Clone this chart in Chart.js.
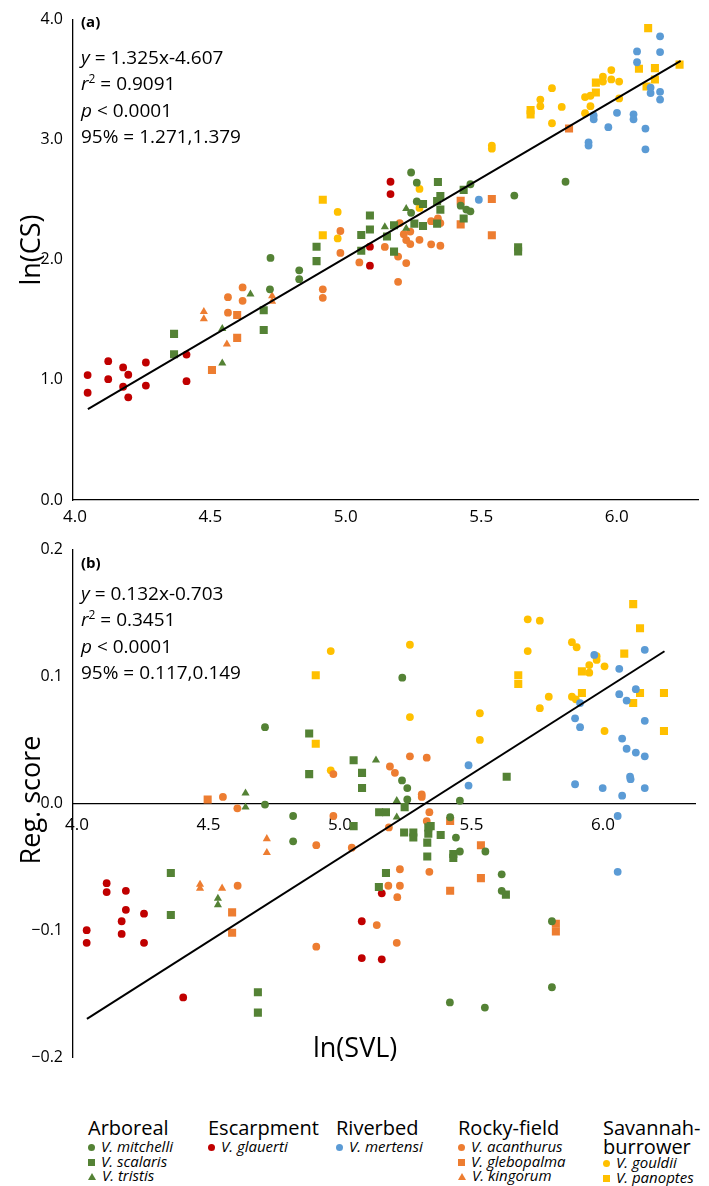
<!DOCTYPE html>
<html>
<head>
<meta charset="utf-8">
<script src="https://cdn.jsdelivr.net/npm/chart.js@4.4.1/dist/chart.umd.min.js"></script>
<style>
  body { margin: 0; background: #fff; color: #000; font-family: "Open Sans", sans-serif; }
  #wrap { position: relative; width: 709px; height: 1186px; overflow: hidden; background: #fff; }
  canvas { position: absolute; left: 0; }
  .tag { position: absolute; left: 81px; font-weight: bold; font-size: 15px; line-height: 18px; }
  .stats { position: absolute; left: 81px; font-size: 19px; line-height: 26.4px; white-space: nowrap; }
  .stats sup { font-size: 12px; vertical-align: 7px; line-height: 0; }
  .vtitle { position: absolute; width: 300px; text-align: center; font-size: 27px; line-height: 34px; transform: rotate(-90deg); }
  .htitle { position: absolute; font-size: 27px; line-height: 34px; }
  .grp { position: absolute; top: 1117px; }
  .grp .head { font-size: 20px; line-height: 22px; }
  .grp .head + .head { line-height: 16px; }
  .grp .item { font-size: 15px; line-height: 14.5px; font-style: italic; white-space: nowrap; }
  .mk { display: inline-block; margin-right: 6px; vertical-align: 1px; }
</style>
</head>
<body>
<div id="wrap">
  <canvas id="chartA" width="709" height="540" style="top:0"></canvas>
  <canvas id="chartB" width="709" height="560" style="top:530px"></canvas>

  <div class="tag" style="top:12px">(a)</div>
  <div class="stats" style="top:44px">
    <div><i>y</i> = 1.325x-4.607</div>
    <div><i>r</i><sup>2</sup> = 0.9091</div>
    <div><i>p</i> &lt; 0.0001</div>
    <div>95% = 1.271,1.379</div>
  </div>
  <div class="tag" style="top:553px">(b)</div>
  <div class="stats" style="top:580px">
    <div><i>y</i> = 0.132x-0.703</div>
    <div><i>r</i><sup>2</sup> = 0.3451</div>
    <div><i>p</i> &lt; 0.0001</div>
    <div>95% = 0.117,0.149</div>
  </div>

  <div class="vtitle" style="left:-120px; top:233px">ln(CS)</div>
  <div class="vtitle" style="left:-120px; top:783px">Reg. score</div>
  <div class="htitle" style="left:313px; top:1030px">ln(SVL)</div>

  <div id="legend"></div>
</div>

<script>
// x ticks shared by both panels
const xTicks = [4.0, 4.5, 5.0, 5.5, 6.0];
const yTicksA = [0, 1, 2, 3, 4];
const yTicksB = [-0.2, -0.1, 0, 0.1, 0.2];

// panel (a): ln(CS) against ln(SVL)
const mitchelliA = [[4.720,1.754],[4.722,2.016],[4.828,1.912],[4.828,1.839],[5.241,2.727],[5.262,2.642],[5.262,2.486],[5.241,2.391],[5.424,2.451],[5.445,2.418],[5.460,2.404],[5.460,2.629],[5.622,2.535],[5.811,2.650]];
const scalarisA = [[4.366,1.383],[4.366,1.213],[4.697,1.580],[4.697,1.416],[4.892,2.109],[4.892,1.989],[5.057,2.207],[5.057,2.076],[5.089,2.369],[5.089,2.252],[5.178,2.287],[5.178,2.068],[5.152,2.194],[5.253,2.301],[5.285,2.465],[5.285,2.281],[5.340,2.648],[5.349,2.530],[5.337,2.489],[5.349,2.418],[5.337,2.301],[5.435,2.582],[5.435,2.344],[5.636,2.104],[5.636,2.070]];
const tristisA = [[4.648,1.713],[4.544,1.426],[4.544,1.139],[5.144,2.273],[5.223,2.426],[5.223,2.262]];
const glauertiA = [[4.047,1.040],[4.047,0.893],[4.123,1.156],[4.123,1.006],[4.178,1.104],[4.197,1.043],[4.178,0.943],[4.197,0.855],[4.262,1.145],[4.262,0.953],[4.412,1.211],[4.412,0.989],[5.165,2.650],[5.165,2.547],[5.089,2.109],[5.089,1.951]];
const mertensiA = [[5.491,2.500],[6.160,3.861],[6.075,3.735],[6.160,3.730],[6.075,3.645],[6.125,3.434],[6.125,3.388],[6.160,3.399],[6.160,3.334],[5.915,3.202],[5.915,3.170],[6.001,3.224],[6.062,3.211],[6.062,3.170],[5.969,3.104],[6.106,3.093],[5.896,2.978],[5.896,2.951],[6.106,2.920]];
const acanthurusA = [[4.619,1.770],[4.565,1.689],[4.619,1.658],[4.565,1.560],[4.915,1.754],[4.915,1.683],[4.980,2.240],[4.980,2.057],[5.050,1.978],[5.144,2.107],[5.193,2.027],[5.223,1.973],[5.193,1.817],[5.199,2.306],[5.214,2.213],[5.238,2.235],[5.223,2.164],[5.238,2.131],[5.272,2.166],[5.315,2.322],[5.340,2.344],[5.349,2.306],[5.315,2.129],[5.349,2.117]];
const glebopalmaA = [[4.599,1.541],[4.599,1.350],[4.506,1.082],[5.424,2.492],[5.424,2.295],[5.539,2.506],[5.539,2.205],[5.824,3.093]];
const kingorumA = [[4.476,1.568],[4.476,1.508],[4.728,1.699],[4.728,1.653],[4.561,1.298]];
const gouldiiA = [[4.970,2.399],[4.970,2.178],[5.272,2.590],[5.272,2.432],[5.539,2.951],[5.539,2.925],[5.980,3.580],[5.949,3.525],[5.949,3.484],[5.980,3.502],[6.009,3.484],[5.761,3.429],[5.718,3.334],[5.718,3.279],[5.797,3.273],[5.761,3.137],[5.883,3.355],[5.903,3.366],[5.903,3.279],[5.883,3.221],[6.009,3.344]];
const panoptesA = [[4.915,2.500],[4.915,2.205],[6.116,3.929],[6.082,3.590],[6.141,3.596],[6.232,3.625],[6.141,3.502],[6.110,3.443],[5.923,3.475],[5.923,3.393],[5.682,3.246],[5.682,3.211]];

// panel (b): regression score against ln(SVL)
const mitchelliB = [[4.715,0.060],[4.715,-0.001],[4.822,-0.010],[4.822,-0.030],[5.237,0.099],[5.236,0.018],[5.256,0.012],[5.256,0.003],[5.456,0.002],[5.419,-0.011],[5.441,-0.027],[5.456,-0.038],[5.553,-0.038],[5.615,-0.056],[5.615,-0.069],[5.806,-0.093],[5.806,-0.145],[5.418,-0.157],[5.551,-0.161]];
const scalarisB = [[4.883,0.055],[4.883,0.023],[5.052,0.034],[5.084,0.024],[5.084,0.012],[5.052,-0.018],[5.149,-0.007],[5.175,-0.007],[5.246,-0.003],[5.634,0.021],[5.244,-0.023],[5.279,-0.023],[5.279,-0.027],[5.336,-0.019],[5.345,-0.018],[5.336,-0.024],[5.383,-0.025],[5.332,-0.031],[5.332,-0.042],[5.431,-0.040],[5.431,-0.043],[5.631,-0.072],[4.357,-0.055],[4.357,-0.088],[5.175,-0.055],[5.148,-0.066],[4.688,-0.149],[4.688,-0.165]];
const tristisB = [[5.137,0.034],[4.641,0.008],[4.641,-0.003],[5.216,0.002],[5.216,-0.011],[4.536,-0.075],[4.536,-0.080]];
const glauertiB = [[4.037,-0.100],[4.037,-0.110],[4.113,-0.063],[4.113,-0.070],[4.186,-0.069],[4.186,-0.084],[4.170,-0.093],[4.170,-0.103],[4.255,-0.087],[4.255,-0.110],[4.404,-0.153],[5.083,-0.093],[5.083,-0.122],[5.159,-0.071],[5.159,-0.123]];
const mertensiB = [[5.489,0.030],[5.489,0.014],[5.967,0.117],[6.159,0.121],[6.062,0.106],[6.125,0.090],[6.062,0.086],[6.090,0.081],[5.913,0.079],[5.894,0.067],[5.913,0.060],[6.159,0.065],[6.073,0.051],[6.090,0.043],[6.125,0.040],[6.159,0.037],[6.103,0.021],[6.105,0.019],[5.894,0.015],[5.999,0.012],[6.159,0.012],[6.073,0.006],[6.056,-0.010],[6.056,-0.054]];
const acanthurusB = [[4.975,0.023],[5.190,0.029],[4.555,0.005],[4.610,-0.004],[4.975,-0.010],[4.910,-0.033],[5.045,-0.035],[4.611,-0.065],[4.910,-0.113],[5.184,-0.065],[5.140,-0.096],[5.266,0.037],[5.330,0.036],[5.209,0.024],[5.311,0.007],[5.311,0.005],[5.340,-0.007],[5.330,-0.014],[5.186,-0.019],[5.228,-0.052],[5.340,-0.054],[5.228,-0.065],[5.218,-0.074],[5.216,-0.110]];
const glebopalmaB = [[4.497,0.003],[4.590,-0.086],[4.590,-0.102],[5.419,-0.014],[5.536,-0.033],[5.536,-0.059],[5.419,-0.069],[5.821,-0.095],[5.821,-0.101]];
const kingorumB = [[4.722,-0.028],[4.722,-0.039],[4.468,-0.064],[4.468,-0.067],[4.552,-0.067]];
const gouldiiB = [[4.965,0.120],[4.965,0.026],[5.266,0.125],[5.266,0.068],[5.532,0.071],[5.532,0.050],[5.714,0.145],[5.760,0.144],[5.714,0.120],[5.882,0.127],[5.900,0.123],[5.948,0.109],[5.976,0.113],[5.976,0.116],[6.006,0.108],[5.948,0.103],[5.794,0.084],[5.760,0.075],[5.882,0.084],[5.897,0.082],[6.006,0.057]];
const panoptesB = [[4.908,0.101],[4.908,0.047],[5.678,0.101],[5.678,0.094],[6.115,0.157],[6.141,0.138],[6.081,0.118],[5.920,0.104],[5.920,0.087],[6.141,0.087],[6.115,0.079],[6.232,0.087],[6.232,0.057]];

// regression lines: x range of the fit, slope and intercept from the panel text
const fitXA = [4.048, 6.236];
const fitA = [1.325, -4.607];
const fitXB = [4.038, 6.234];
const fitB = [0.132, -0.703];

// legend groups
const groups = ['Arboreal', 'Escarpment', 'Riverbed', 'Rocky-field', 'Savannah-\nburrower'];
const groupSpecies = [
  ['mitchelli', 'scalaris', 'tristis'],
  ['glauerti'],
  ['mertensi'],
  ['acanthurus', 'glebopalma', 'kingorum'],
  ['gouldii', 'panoptes']
];

const GREEN = '#548235', RED = '#c00000', BLUE = '#5b9bd5', ORANGE = '#ed7d31', YELLOW = '#ffc000';
const styles = {
  mitchelli: [GREEN, 'circle'], scalaris: [GREEN, 'rect'], tristis: [GREEN, 'triangle'],
  glauerti: [RED, 'circle'], mertensi: [BLUE, 'circle'],
  acanthurus: [ORANGE, 'circle'], glebopalma: [ORANGE, 'rect'], kingorum: [ORANGE, 'triangle'],
  gouldii: [YELLOW, 'circle'], panoptes: [YELLOW, 'rect']
};
const radius = { circle: 3.9, rect: 5.7, triangle: 4.7 };

const seriesA = { mitchelli: mitchelliA, scalaris: scalarisA, tristis: tristisA, glauerti: glauertiA, mertensi: mertensiA,
  acanthurus: acanthurusA, glebopalma: glebopalmaA, kingorum: kingorumA, gouldii: gouldiiA, panoptes: panoptesA };
const seriesB = { mitchelli: mitchelliB, scalaris: scalarisB, tristis: tristisB, glauerti: glauertiB, mertensi: mertensiB,
  acanthurus: acanthurusB, glebopalma: glebopalmaB, kingorum: kingorumB, gouldii: gouldiiB, panoptes: panoptesB };

const FONT = '"Open Sans", sans-serif';

function makeDatasets(series, fitX, fit) {
  const sets = [{
    type: 'line',
    data: fitX.map(x => ({ x: x, y: fit[0] * x + fit[1] })),
    borderColor: '#000',
    borderWidth: 2,
    pointRadius: 0,
    order: 0
  }];
  Object.keys(series).forEach(name => {
    const [color, shape] = styles[name];
    sets.push({
      label: name,
      data: series[name].map(p => ({ x: p[0], y: p[1] })),
      backgroundColor: color,
      borderWidth: 0,
      pointStyle: shape,
      pointRadius: radius[shape],
      order: 1
    });
  });
  return sets;
}

function fixedTicks(values) {
  return scale => { scale.ticks = values.map(v => ({ value: v })); };
}

function fmt(v) {
  const s = Math.abs(v).toFixed(1);
  return v < 0 ? '\u2212' + s : s;
}

function axis(extra) {
  return Object.assign({
    type: 'linear',
    grid: { display: false, drawTicks: false },
    border: { display: true, color: '#000', width: 1.3 }
  }, extra);
}

function tickOpts(size, padding) {
  return { color: '#000', font: { family: FONT, size: size }, padding: padding, callback: fmt };
}

Chart.defaults.font.family = FONT;

new Chart(document.getElementById('chartA'), {
  type: 'scatter',
  data: { datasets: makeDatasets(seriesA, fitXA, fitA) },
  options: {
    responsive: false,
    animation: false,
    devicePixelRatio: 1,
    layout: { padding: { top: 12, right: 11, bottom: 0, left: 0 } },
    plugins: { legend: { display: false }, tooltip: { enabled: false } },
    scales: {
      x: axis({ min: 3.993, max: 6.30, afterBuildTicks: fixedTicks(xTicks),
        afterFit: s => { s.height = 40; }, ticks: tickOpts(17, 7) }),
      y: axis({ min: 0, max: 4, afterBuildTicks: fixedTicks(yTicksA),
        afterFit: s => { s.width = 73; }, ticks: tickOpts(16, 10) })
    }
  }
});

new Chart(document.getElementById('chartB'), {
  type: 'scatter',
  data: { datasets: makeDatasets(seriesB, fitXB, fitB) },
  options: {
    responsive: false,
    animation: false,
    devicePixelRatio: 1,
    layout: { padding: { top: 17, right: 14, bottom: 33, left: 0 } },
    plugins: { legend: { display: false }, tooltip: { enabled: false } },
    scales: {
      x: axis({ min: 3.985, max: 6.35, position: { y: 0 }, afterBuildTicks: fixedTicks(xTicks),
        ticks: tickOpts(17, 12) }),
      y: axis({ min: -0.2, max: 0.2, afterBuildTicks: fixedTicks(yTicksB),
        afterFit: s => { s.width = 73; }, ticks: tickOpts(16, 10) })
    }
  }
});

// HTML legend built from the group arrays
const groupLeft = [88, 208, 336, 458, 603];
const legend = document.getElementById('legend');
groups.forEach((g, i) => {
  const div = document.createElement('div');
  div.className = 'grp';
  div.style.left = groupLeft[i] + 'px';
  g.split('\n').forEach(line => {
    const h = document.createElement('div');
    h.className = 'head';
    h.textContent = line;
    div.appendChild(h);
  });
  groupSpecies[i].forEach(name => {
    const [color, shape] = styles[name];
    const row = document.createElement('div');
    row.className = 'item';
    const mk = document.createElement('span');
    mk.className = 'mk';
    if (shape === 'triangle') {
      mk.style.cssText = 'width:0;height:0;border-left:4px solid transparent;border-right:4px solid transparent;border-bottom:7px solid ' + color;
    } else {
      mk.style.cssText = 'width:7px;height:7px;background:' + color + (shape === 'circle' ? ';border-radius:50%' : '');
    }
    row.appendChild(mk);
    row.appendChild(document.createTextNode('V. ' + name));
    div.appendChild(row);
  });
  legend.appendChild(div);
});
</script>
</body>
</html>
